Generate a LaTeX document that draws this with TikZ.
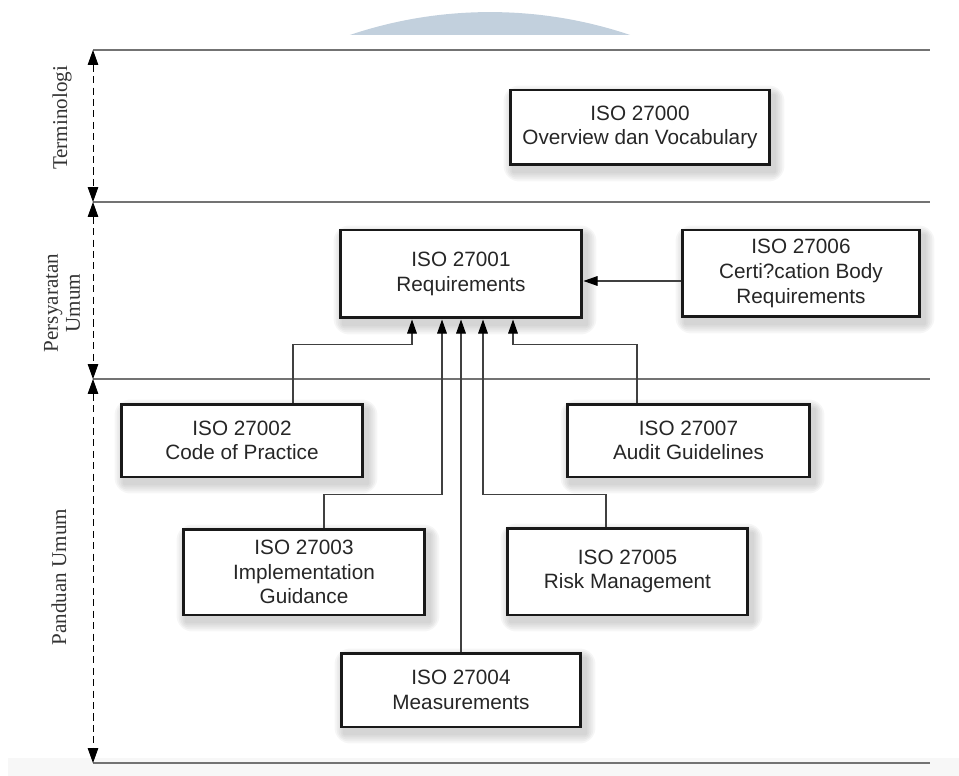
\documentclass[tikz,border=0pt]{standalone}
\usepackage{fontspec}
\setmainfont{Liberation Serif}
\setsansfont{Liberation Sans}
\usetikzlibrary{arrows.meta,calc,backgrounds}
\definecolor{wmark}{RGB}{194,208,221}

\begin{document}
\begin{tikzpicture}[x=0.02cm,y=-0.02cm,
		isobox/.style={draw=black!90,line width=1.7pt,fill=white,align=center,inner sep=0pt,
			minimum width=4.84cm,minimum height=1.46cm,
			font=\sffamily\fontsize{11.8}{14}\selectfont,text=black!85},
		haze/.style={fill=black,opacity=0.035},
		link/.style={draw=black!75,line width=0.6pt,-{Triangle[length=8pt,width=5.5pt,color=black]}},
		level/.style={draw=black!55,line width=1pt},
		span/.style={dash pattern=on 4pt off 2.5pt,line width=0.5pt,
			{Triangle[length=8.5pt,width=6pt]}-{Triangle[length=8.5pt,width=6pt]}},
		side/.style={rotate=90,align=center,font=\fontsize{12}{12.5}\selectfont,text=black!80}]
	\useasboundingbox (0,0) rectangle (959,776);
	% faint watermark and bottom strip
	\begin{scope}
		\clip (300,0) rectangle (700,35);
		\fill[wmark] (490,450) circle (8.76cm);
	\end{scope}
	\fill[black!3] (8,758) rectangle (959,776);
	% levels
	\coordinate (l0) at (93,50);
	\coordinate (l1) at (93,202);
	\coordinate (l2) at (93,379);
	\coordinate (l3) at (93,763);
	\foreach \y in {50,202,379,763}
		\draw[level] (93,\y) -- (930,\y);
	\draw[span] (l0) -- (l1);
	\draw[span] (l1) -- (l2);
	\draw[span] (l2) -- (l3);
	\node[side] (terminologi) at (62,118) {Terminologi};
	\node[side] (persyaratan) at (62,303) {Persyaratan\\Umum};
	\node[side] (panduan) at (59,577) {Panduan Umum};
	% standards
	\node[isobox,minimum width=5.2cm,minimum height=1.5cm] (b27000) at (640,127.5) {ISO 27000\\Overview dan Vocabulary};
	\node[isobox,minimum height=1.76cm] (b27001) at (461,274) {ISO 27001\\Requirements};
	\node[isobox,minimum width=4.76cm,minimum height=1.74cm] (b27006) at (801,273.5) {ISO 27006\\Certi?cation Body\\Requirements};
	\node[isobox] (b27002) at (242,440.5) {ISO 27002\\Code of Practice};
	\node[isobox,minimum width=4.86cm] (b27007) at (688.5,440.5) {ISO 27007\\Audit Guidelines};
	\node[isobox,minimum height=1.72cm] (b27003) at (304,572) {ISO 27003\\Implementation\\Guidance};
	\node[isobox,minimum width=4.82cm,minimum height=1.74cm] (b27005) at (627.5,571.5) {ISO 27005\\Risk Management};
	\node[isobox,minimum width=4.8cm,minimum height=1.48cm] (b27004) at (461,690) {ISO 27004\\Measurements};
	% soft shadows behind the boxes
	\begin{scope}[on background layer]
		\foreach \b in {b27000,b27001,b27002,b27003,b27004,b27005,b27006,b27007}
			\foreach \g in {1,3,5,7,9}
				\fill[haze,rounded corners=\g pt] ($(\b.south west)+(4-\g,6+\g)$) rectangle ($(\b.north east)+(4+\g,6-\g)$);
	\end{scope}
	% links into ISO 27001
	\coordinate (arrY) at (0,281);
	\draw[link] (b27006.west |- arrY) -- (b27001.east |- arrY);
	\draw[link] ($(b27002.north)+(51,0)$) |- ($(b27001.south)+(-49,25)$) -- ($(b27001.south)+(-49,0)$);
	\draw[link] ($(b27003.north)+(20,0)$) |- ($(b27001.south)+(-19,175)$) -- ($(b27001.south)+(-19,0)$);
	\draw[link] (b27004.north) -- (b27001.south);
	\draw[link] ($(b27005.north)+(-21.5,0)$) |- ($(b27001.south)+(22,175)$) -- ($(b27001.south)+(22,0)$);
	\draw[link] ($(b27007.north)+(-51.5,0)$) |- ($(b27001.south)+(52,25)$) -- ($(b27001.south)+(52,0)$);
\end{tikzpicture}
\end{document}
